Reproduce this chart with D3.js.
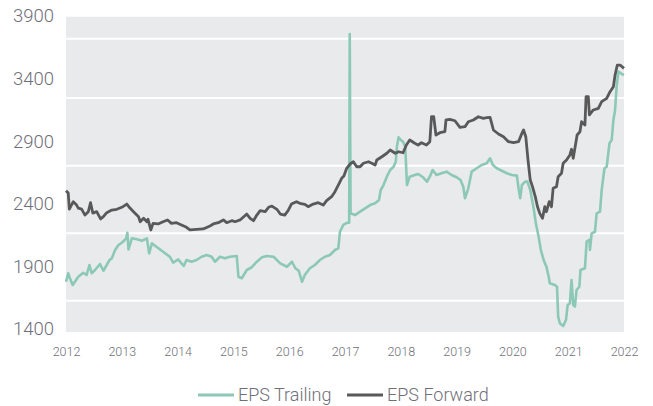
<!DOCTYPE html>
<html><head><meta charset="utf-8">
<script src="https://cdn.jsdelivr.net/npm/d3@7"></script>
<style>
html,body{margin:0;padding:0;background:#fff;}
svg{display:block;}
text{font-family:Roboto,"Noto Sans",sans-serif;font-weight:300;fill:#6f6f79;}
</style></head>
<body>
<svg id="chart" width="653" height="406"></svg>
<script>
const yearTicks = [2012,2013,2014,2015,2016,2017,2018,2019,2020,2021,2022];
const valueTicks = [1400,1900,2400,2900,3400,3900];
const gridValues = [1620,2160,2700,3240,3715];
const seriesNames = ["EPS Trailing","EPS Forward"];

const trailingYears = [2012.00,2012.04,2012.07,2012.12,2012.16,2012.22,2012.31,2012.37,2012.42,2012.46,2012.52,2012.61,2012.67,2012.73,2012.78,2012.82,2012.88,2012.94,2013.00,2013.08,2013.10,2013.12,2013.18,2013.27,2013.36,2013.45,2013.49,2013.54,2013.62,2013.74,2013.86,2013.92,2014.01,2014.07,2014.11,2014.16,2014.25,2014.34,2014.43,2014.52,2014.61,2014.67,2014.76,2014.85,2014.94,2015.06,2015.09,2015.15,2015.24,2015.33,2015.42,2015.51,2015.60,2015.72,2015.84,2015.96,2016.05,2016.11,2016.17,2016.23,2016.28,2016.37,2016.46,2016.55,2016.64,2016.73,2016.82,2016.88,2016.91,2016.97,2017.04,2017.075,2017.085,2017.10,2017.18,2017.27,2017.36,2017.45,2017.54,2017.61,2017.64,2017.69,2017.75,2017.81,2017.87,2017.91,2017.93,2017.96,2018.00,2018.04,2018.08,2018.11,2018.16,2018.25,2018.31,2018.40,2018.47,2018.52,2018.57,2018.64,2018.73,2018.82,2018.91,2019.00,2019.07,2019.12,2019.15,2019.21,2019.27,2019.36,2019.45,2019.54,2019.60,2019.65,2019.72,2019.81,2019.90,2019.99,2020.08,2020.11,2020.14,2020.17,2020.23,2020.27,2020.32,2020.38,2020.42,2020.47,2020.51,2020.56,2020.61,2020.65,2020.67,2020.76,2020.80,2020.82,2020.85,2020.91,2020.96,2020.99,2021.03,2021.06,2021.09,2021.12,2021.15,2021.20,2021.22,2021.30,2021.33,2021.38,2021.39,2021.42,2021.48,2021.51,2021.57,2021.60,2021.65,2021.69,2021.74,2021.78,2021.81,2021.84,2021.87,2021.90,2021.96,2022.00];
const trailingValues = [1772,1840,1800,1746,1772,1812,1844,1826,1906,1840,1866,1914,1860,1906,1946,1959,2026,2066,2084,2119,2164,2031,2119,2111,2100,2119,1999,2079,2052,2012,1972,1924,1951,1919,1898,1946,1932,1946,1972,1986,1972,1932,1972,1959,1972,1978,1812,1800,1866,1888,1932,1967,1978,1972,1919,1892,1932,1880,1860,1772,1826,1880,1906,1946,1972,1986,2026,2039,2172,2226,2244,2244,3752,2319,2305,2332,2359,2385,2399,2425,2505,2545,2612,2665,2691,2731,2851,2926,2905,2891,2851,2545,2612,2625,2633,2607,2572,2612,2665,2625,2639,2652,2625,2607,2585,2532,2439,2519,2652,2679,2705,2719,2759,2705,2679,2659,2639,2625,2620,2519,2439,2545,2572,2573,2505,2361,2239,2132,2026,1946,1892,1812,1760,1746,1732,1493,1440,1418,1466,1586,1600,1786,1586,1573,1706,1732,1866,1880,2092,2106,2026,2159,2172,2319,2332,2505,2679,2691,2879,2905,3065,3145,3344,3451,3432,3424];

const forwardYears = [2012.00,2012.04,2012.06,2012.13,2012.19,2012.22,2012.28,2012.34,2012.40,2012.44,2012.48,2012.55,2012.62,2012.67,2012.73,2012.82,2012.91,2013.00,2013.09,2013.15,2013.21,2013.30,2013.33,2013.39,2013.45,2013.47,2013.52,2013.56,2013.65,2013.74,2013.82,2013.89,2013.98,2014.07,2014.16,2014.22,2014.34,2014.46,2014.58,2014.64,2014.73,2014.82,2014.88,2014.97,2015.03,2015.12,2015.24,2015.30,2015.36,2015.42,2015.48,2015.57,2015.63,2015.69,2015.78,2015.84,2015.92,2015.98,2016.04,2016.13,2016.19,2016.28,2016.34,2016.43,2016.52,2016.61,2016.67,2016.76,2016.82,2016.88,2016.94,2016.98,2017.03,2017.09,2017.15,2017.21,2017.27,2017.33,2017.42,2017.48,2017.54,2017.57,2017.66,2017.75,2017.81,2017.90,2017.96,2018.04,2018.10,2018.16,2018.25,2018.31,2018.37,2018.46,2018.52,2018.55,2018.59,2018.63,2018.70,2018.79,2018.81,2018.88,2018.97,2019.06,2019.15,2019.21,2019.30,2019.39,2019.48,2019.54,2019.60,2019.66,2019.75,2019.84,2019.93,2020.02,2020.11,2020.17,2020.20,2020.24,2020.28,2020.32,2020.36,2020.41,2020.45,2020.49,2020.54,2020.58,2020.61,2020.66,2020.70,2020.73,2020.79,2020.82,2020.88,2020.91,2020.97,2021.03,2021.06,2021.09,2021.12,2021.16,2021.21,2021.24,2021.30,2021.32,2021.36,2021.38,2021.45,2021.54,2021.60,2021.69,2021.75,2021.81,2021.84,2021.88,2021.93,2022.00];
const forwardValues = [2500,2481,2353,2412,2385,2361,2353,2305,2332,2404,2321,2332,2274,2292,2324,2345,2351,2367,2393,2359,2332,2292,2252,2279,2252,2271,2186,2239,2234,2252,2266,2239,2244,2226,2207,2186,2191,2194,2218,2234,2244,2266,2244,2260,2252,2266,2313,2279,2260,2305,2340,2332,2367,2377,2351,2313,2305,2340,2393,2412,2399,2391,2372,2393,2404,2385,2420,2452,2492,2545,2599,2617,2679,2713,2731,2691,2691,2719,2731,2719,2705,2745,2771,2799,2825,2799,2811,2803,2865,2905,2879,2865,2883,2865,2891,3091,3091,2945,2963,2971,3065,3070,3059,3006,3011,3051,3065,3091,3078,3083,3086,2985,2953,2931,2891,2883,2891,2958,2985,2931,2745,2585,2532,2452,2372,2319,2279,2372,2332,2412,2372,2519,2532,2612,2639,2719,2745,2785,2831,2759,2839,2945,2971,3051,3025,3251,3251,3105,3145,3158,3211,3238,3291,3331,3424,3504,3504,3478];

const colors = ["#8cc8b6","#595959"];

const svg = d3.select("#chart");
const x = d3.scaleLinear().domain([2012,2022]).range([66,624]);
const y = d3.scaleLinear().domain([1400,3900]).range([328.3,15.5]);

// plot background
svg.append("rect")
  .attr("x", x(2012)).attr("y", y(3890))
  .attr("width", x(2022)-x(2012)).attr("height", y(1370)-y(3890))
  .attr("fill","#e9eaec");

// gridlines
svg.append("g").selectAll("line").data(gridValues).join("line")
  .attr("x1", x(2012)).attr("x2", x(2022))
  .attr("y1", d=>y(d)).attr("y2", d=>y(d))
  .attr("stroke","#fff").attr("stroke-width",2);

// y axis labels
const yAxis = d3.axisLeft(y).tickValues(valueTicks).tickSize(0).tickPadding(0).tickFormat(d3.format("d"));
const gy = svg.append("g").attr("transform","translate(54,0)").call(yAxis);
gy.select(".domain").remove();
gy.selectAll("text").attr("font-size",18.5).attr("fill","#6f6f79").attr("font-family",null).attr("dy","0.35em");

// x axis labels
const xAxis = d3.axisBottom(x).tickValues(yearTicks).tickSize(0).tickPadding(0).tickFormat(d3.format("d"));
const gx = svg.append("g").attr("transform","translate(0,352)").call(xAxis);
gx.select(".domain").remove();
gx.selectAll("text").attr("font-size",12.5).attr("fill","#6f6f79").attr("font-family",null).attr("dy","0.35em");

const line = d3.line().x(d=>x(d[0])).y(d=>y(d[1])).curve(d3.curveLinear);
const trailing = trailingYears.map((t,i)=>[t,trailingValues[i]]);
const forward = forwardYears.map((t,i)=>[t,forwardValues[i]]);

svg.append("path").datum(trailing).attr("d",line)
  .attr("fill","none").attr("stroke",colors[0]).attr("stroke-width",2.6).attr("stroke-linejoin","round");
svg.append("path").datum(forward).attr("d",line)
  .attr("fill","none").attr("stroke",colors[1]).attr("stroke-width",2.8).attr("stroke-linejoin","round");

// legend
const legendItems = [{x:198, name:seriesNames[0], c:colors[0]},{x:347, name:seriesNames[1], c:colors[1]}];
const lg = svg.append("g");
legendItems.forEach(it=>{
  lg.append("line").attr("x1",it.x).attr("x2",it.x+36).attr("y1",395).attr("y2",395)
    .attr("stroke",it.c).attr("stroke-width",3);
  lg.append("text").attr("x",it.x+40).attr("y",395).attr("dy","0.35em")
    .attr("font-size",18).attr("fill","#6f6f79").text(it.name);
});
</script>
</body></html>
